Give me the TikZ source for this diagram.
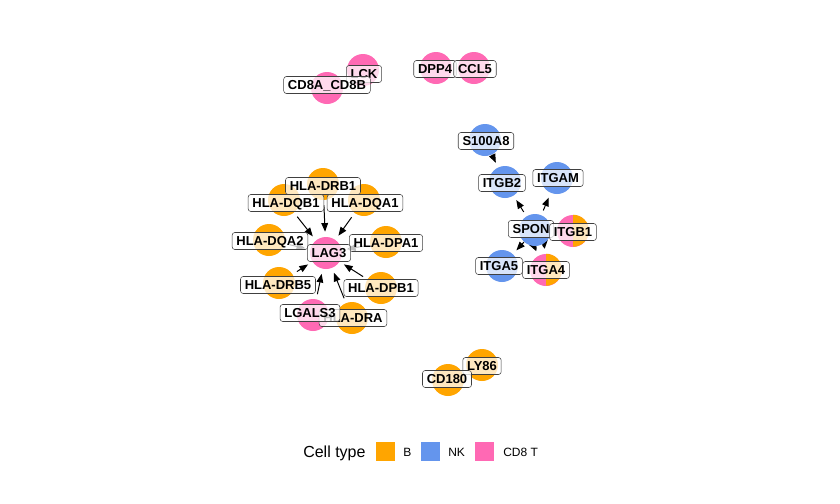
\documentclass[tikz,border=0pt]{standalone}
\usepackage{fontspec}
\setmainfont{Liberation Sans}
\usetikzlibrary{arrows.meta}
\definecolor{bcol}{HTML}{FFA500}
\definecolor{nkcol}{HTML}{6495ED}
\definecolor{tcol}{HTML}{FF69B4}
\pgfdeclarelayer{backdrop}
\pgfdeclarelayer{bg}
\pgfsetlayers{backdrop,bg,main}
\begin{document}
\begin{tikzpicture}[x=0.75pt,y=-0.75pt,
  dot/.style={circle, inner sep=0pt, minimum size=24pt},
  bdot/.style={dot, fill=bcol},
  ndot/.style={dot, fill=nkcol},
  tdot/.style={dot, fill=tcol},
  lab/.style={draw=black!75, line width=0.4pt, fill=white, fill opacity=0.75, text opacity=1,
    rounded corners=2pt, inner xsep=3.2pt, inner ysep=0pt, minimum height=12.75pt,
    text height=7pt, text depth=0pt, font=\fontsize{9.75}{10}\selectfont\bfseries},
  edgearrow/.style={-{Triangle[length=6.5pt,width=5pt]}, line width=0.75pt, shorten >=3.75pt, shorten <=3.75pt},
  lsq/.style={rectangle, inner sep=0pt, minimum size=14.25pt},
  ltxt/.style={anchor=base west, inner sep=0pt, font=\fontsize{9}{10}\selectfont}
]
\useasboundingbox (0,0) rectangle (840,504);
\begin{pgfonlayer}{backdrop}
\fill[white] (0,0) rectangle (840,504);
\end{pgfonlayer}

% ---- circles ----
\node[tdot] (cLCK) at (363,70) {};
\node[tdot] (cCD8) at (327,88) {};
\node[tdot] (cDPP4) at (436,68) {};
\node[tdot] (cCCL5) at (474,68) {};

\node[ndot] (cS100A8) at (485,140) {};
\node[ndot] (cITGB2) at (505,182) {};
\node[ndot] (cITGAM) at (557,178) {};
\node[ndot] (cSPON) at (535,230) {};
\node[tdot] (cITGB1) at (573,231) {};
\fill[bcol] (cITGB1.north) arc[start angle=90, end angle=-90, radius=12pt] -- cycle;
\node[ndot] (cITGA5) at (502,266) {};
\node[tdot] (cITGA4) at (546,270) {};
\fill[bcol] (cITGA4.north) arc[start angle=90, end angle=-90, radius=12pt] -- cycle;

\node[tdot] (cLAG3) at (326,253) {};
\node[bdot] (cDRB1) at (323,184) {};
\node[bdot] (cDQB1) at (284,200) {};
\node[bdot] (cDQA1) at (364,200) {};
\node[bdot] (cDQA2) at (269,240) {};
\node[bdot] (cDPA1) at (386,242) {};
\node[bdot] (cDRB5) at (279,283) {};
\node[bdot] (cDPB1) at (381,288) {};
\node[tdot] (cLGALS3) at (313,315) {};
\node[bdot] (cDRA) at (352,318) {};

\node[bdot] (cLY86) at (482,365) {};
\node[bdot] (cCD180) at (448,380) {};

% ---- edges ----
\begin{pgfonlayer}{bg}
\foreach \s in {cDRB1,cDQB1,cDQA1,cDQA2,cDPA1,cDRB5,cDPB1,cLGALS3,cDRA}
  \draw[edgearrow] (\s) -- (cLAG3);
\draw[edgearrow, shorten <=0pt] (cS100A8) -- (cITGB2);
\draw[edgearrow] (cSPON) -- (cITGB2);
\draw[edgearrow] (cSPON) -- (cITGAM);
\draw[edgearrow, shorten <=0pt] (cSPON) -- (cITGA5);
\draw[edgearrow, shorten <=0pt] (cSPON) to[bend right=12] (cITGA4);
\draw[edgearrow, shorten <=0pt] (cSPON) to[bend left=12] (cITGA4);
\end{pgfonlayer}

% ---- labels ----
\node[lab] (LCK) at (364,74) {LCK};
\node[lab] (CD8) at (327,85) {CD8A\_CD8B};
\node[lab] (DPP4) at (435,69) {DPP4};
\node[lab] (CCL5) at (475,69) {CCL5};

\node[lab] (S100A8) at (486,141) {S100A8};
\node[lab] (ITGB2) at (502,183) {ITGB2};
\node[lab] (ITGAM) at (558,178) {ITGAM};
\node[lab] (SPON) at (531,229) {SPON};
\node[lab] (ITGB1) at (573,232) {ITGB1};
\node[lab] (ITGA5) at (499,266) {ITGA5};
\node[lab] (ITGA4) at (546,270) {ITGA4};

\node[lab] (DRB1) at (323,186) {HLA-DRB1};
\node[lab] (DQB1) at (286,203) {HLA-DQB1};
\node[lab] (DQA1) at (365,203) {HLA-DQA1};
\node[lab] (DQA2) at (270,241) {HLA-DQA2};
\node[lab] (DPA1) at (386,243) {HLA-DPA1};
\node[lab] (LAG3) at (329,253) {LAG3};
\node[lab] (DRB5) at (278,285) {HLA-DRB5};
\node[lab] (DPB1) at (381,288) {HLA-DPB1};
\node[lab] (DRA) at (353,318) {HLA-DRA};
\node[lab] (LGALS3) at (310,313) {LGALS3};

\node[lab] (LY86) at (482,366) {LY86};
\node[lab] (CD180) at (447,379) {CD180};

% ---- legend ----
\node[anchor=base west, inner sep=0pt, font=\fontsize{12}{14}\selectfont] (ltitle) at (303,457) {Cell type};
\node[lsq, fill=bcol] (kB) at (385.5,451.5) {};
\node[ltxt] (tB) at (403,456) {B};
\node[lsq, fill=nkcol] (kNK) at (430,451.5) {};
\node[ltxt] (tNK) at (448,456) {NK};
\node[lsq, fill=tcol] (kT) at (484.5,451.5) {};
\node[ltxt] (tT) at (503,456) {CD8 T};
\end{tikzpicture}
\end{document}
